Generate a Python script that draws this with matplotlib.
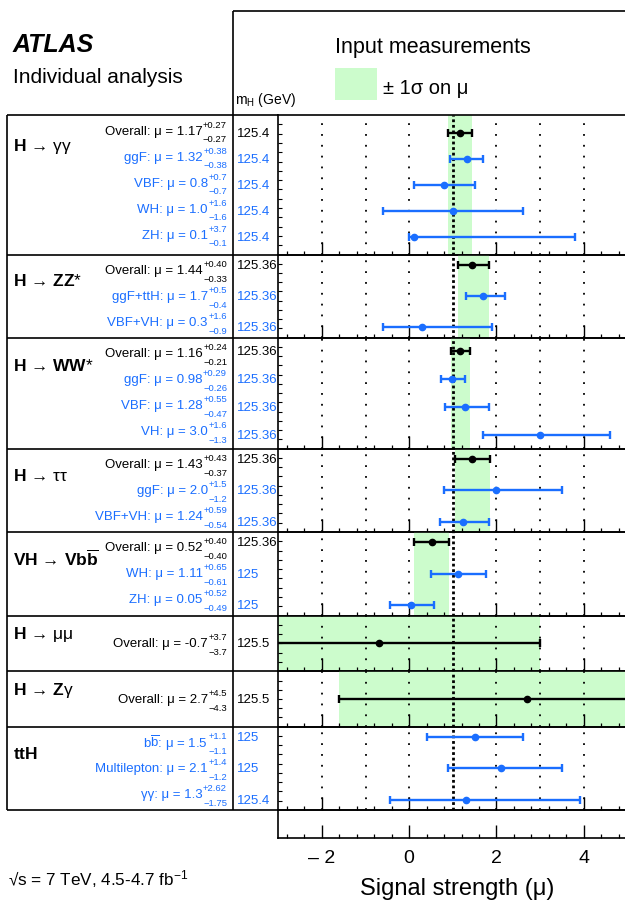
import numpy as np
import matplotlib
matplotlib.use("Agg")
import matplotlib.pyplot as plt
from matplotlib.patches import Rectangle
from matplotlib.ticker import MultipleLocator, FixedLocator
from matplotlib import transforms

plt.rcParams['font.family'] = ['Liberation Sans', 'DejaVu Sans']
plt.rcParams['mathtext.fontset'] = 'custom'
plt.rcParams['mathtext.rm'] = 'Liberation Sans'
plt.rcParams['mathtext.it'] = 'Liberation Sans:italic'
plt.rcParams['mathtext.bf'] = 'Liberation Sans:bold'

# --- данные (читаются с картинки) ---
categories = [r"$\mathbf{H}$ → γγ", r"$\mathbf{H}$ → $\mathbf{ZZ}$*",
              r"$\mathbf{H}$ → $\mathbf{WW}$*", r"$\mathbf{H}$ → ττ",
              r"$\mathbf{VH}$ → $\mathbf{Vb}\overline{\mathbf{b}}$",
              r"$\mathbf{H}$ → μμ", r"$\mathbf{H}$ → $\mathbf{Z}$γ",
              r"$\mathbf{ttH}$"]
row_labels = [
    ["Overall", "ggF", "VBF", "WH", "ZH"],
    ["Overall", "ggF+ttH", "VBF+VH"],
    ["Overall", "ggF", "VBF", "VH"],
    ["Overall", "ggF", "VBF+VH"],
    ["Overall", "WH", "ZH"],
    ["Overall"],
    ["Overall"],
    [r"b$\overline{\mathrm{b}}$", "Multilepton", "γγ"],
]
mu_vals = [
    ["1.17", "1.32", "0.8", "1.0", "0.1"],
    ["1.44", "1.7", "0.3"],
    ["1.16", "0.98", "1.28", "3.0"],
    ["1.43", "2.0", "1.24"],
    ["0.52", "1.11", "0.05"],
    ["-0.7"],
    ["2.7"],
    ["1.5", "2.1", "1.3"],
]
err_up = [
    ["0.27", "0.38", "0.7", "1.6", "3.7"],
    ["0.40", "0.5", "1.6"],
    ["0.24", "0.29", "0.55", "1.6"],
    ["0.43", "1.5", "0.59"],
    ["0.40", "0.65", "0.52"],
    ["3.7"],
    ["4.5"],
    ["1.1", "1.4", "2.62"],
]
err_dn = [
    ["0.27", "0.38", "0.7", "1.6", "0.1"],
    ["0.33", "0.4", "0.9"],
    ["0.21", "0.26", "0.47", "1.3"],
    ["0.37", "1.2", "0.54"],
    ["0.40", "0.61", "0.49"],
    ["3.7"],
    ["4.3"],
    ["1.1", "1.2", "1.75"],
]
mh_vals = [
    ["125.4"] * 5,
    ["125.36"] * 3,
    ["125.36"] * 4,
    ["125.36"] * 3,
    ["125.36", "125", "125"],
    ["125.5"],
    ["125.5"],
    ["125", "125", "125.4"],
]
xticks_major = [-2, 0, 2, 4]
xtick_labels = ["– 2", "0", "2", "4"]
grid_x = [-2, -1, 0, 2, 3, 4]
sm_mu = 1

# --- оформление ---
W, H = 625, 904
black = 'black'
blue = '#1a6eff'
green = '#ccfccc'
edges = [116, 255.5, 338.5, 449.5, 533, 616.5, 672.3, 727.5, 811, 839]
x0, x1 = 278.3, 627.3
margins = {5: 0.673, 4: 0.5, 3: 0.33, 1: 1.0}
row_step = 26       # шаг строк текста в таблице, px
row_first = 15.5    # отступ первой строки от верха панели, px

fig = plt.figure(figsize=(W / 100, H / 100), dpi=100)
renderer = fig.canvas.get_renderer()
bg = fig.add_axes([0, 0, 1, 1], zorder=0)
bg.set_xlim(0, W)
bg.set_ylim(H, 0)
bg.axis('off')


def box(top, bot):
    return [x0 / W, 1 - bot / H, (x1 - x0) / W, (bot - top) / H]


def style_x(ax):
    ax.set_xlim(-3, 5)
    ax.xaxis.set_major_locator(FixedLocator(xticks_major))
    ax.xaxis.set_minor_locator(MultipleLocator(0.4))
    ax.tick_params(axis='x', which='both', direction='in', top=False, bottom=True)
    ax.tick_params(axis='x', which='major', length=9.5, width=1.0)
    ax.tick_params(axis='x', which='minor', length=2.8, width=0.9)
    ax.spines['right'].set_visible(False)
    for s in ['left', 'bottom', 'top']:
        ax.spines[s].set_linewidth(1.2)
    ax.patch.set_alpha(0)


for i, cat in enumerate(categories):
    n = len(mu_vals[i])
    top, bot = edges[i], edges[i + 1]
    ax = fig.add_axes(box(top, bot), zorder=2)
    style_x(ax)
    ax.tick_params(axis='x', labelbottom=False)
    m = margins[n]
    ax.set_ylim(n - 1 + m, -m)
    k = int(round((bot - top) / 9.1))
    ax.set_yticks(np.linspace(-m, n - 1 + m, k + 1)[1:-1])
    ax.tick_params(axis='y', direction='in', length=2.8, width=0.8,
                   labelleft=False, right=False)

    # зелёная полоса ±1σ для общего результата
    if row_labels[i][0] == "Overall":
        mu0 = float(mu_vals[i][0])
        ax.axvspan(mu0 - float(err_dn[i][0]), mu0 + float(err_up[i][0]),
                   color=green, lw=0, zorder=0)

    for v in grid_x:
        ax.axvline(v, color='k', lw=1.3, ls=(0, (1, 5)), zorder=1)
    ax.axvline(sm_mu, color='k', lw=2.0, ls=(0, (1, 1)), zorder=1.5)

    blend = transforms.blended_transform_factory(bg.transData, ax.transData)
    for j in range(n):
        lab = row_labels[i][j]
        c = black if lab == "Overall" else blue
        mu = float(mu_vals[i][j])
        up = float(err_up[i][j])
        dn = float(err_dn[i][j])
        ax.errorbar(mu, j, xerr=[[dn], [up]], fmt='o', color=c, ms=4.5,
                    lw=1.7, capsize=2.6, capthick=1.7, zorder=3)

        # текст строки: у одиночных панелей по точке, иначе с шагом row_step
        if n > 1:
            ty = top + row_first + row_step * j
        else:
            ty = (top + bot) / 2
        t_up = bg.text(227, ty - 6.5, "+" + err_up[i][j], ha='right',
                       va='center', color=c, fontsize=6.8)
        t_dn = bg.text(227, ty + 8.5, "−" + err_dn[i][j], ha='right',
                       va='center', color=c, fontsize=6.8)
        wpx = max(t_up.get_window_extent(renderer).width,
                  t_dn.get_window_extent(renderer).width)
        bg.text(227 - wpx - 0.5, ty, f"{lab}: μ = {mu_vals[i][j]}",
                ha='right', va='center', color=c, fontsize=9.5)
        ax.text(237, j, mh_vals[i][j], transform=blend, ha='left', va='center',
                color=c, fontsize=9.5)

    ycat = 0.5 if n > 1 else -0.35
    ax.text(13, ycat, cat, transform=blend, ha='left', va='center',
            fontsize=12.5)

# нижняя пустая панель с подписями оси
axb = fig.add_axes(box(edges[-2], edges[-1]), zorder=2)
style_x(axb)
axb.set_ylim(0, 1)
axb.set_yticks([])
axb.set_xticklabels(xtick_labels, fontsize=14)
axb.tick_params(axis='x', which='major', pad=8)

# рамка таблицы
lk = dict(color='k', lw=1.2, solid_capstyle='butt')
for e in edges[:-1]:
    bg.plot([7, x0], [e, e], **lk)
bg.plot([7, 7], [edges[0], edges[-2]], **lk)
bg.plot([233, 233], [12, edges[-2]], **lk)
bg.plot([233, W], [12, 12], **lk)

# заголовки
bg.text(13, 52.5, "ATLAS", fontsize=18, fontweight='bold', style='italic',
        va='baseline')
bg.text(13, 83, "Individual analysis", fontsize=15, va='baseline')
bg.text(433, 52.5, "Input measurements", fontsize=15.5, ha='center', va='baseline')
bg.add_patch(Rectangle((335, 69), 42, 32, color=green, lw=0))
bg.text(383, 94, "± 1σ on μ", fontsize=14.5, va='baseline')
bg.text(235, 104, r"m$_{\mathrm{H}}$ (GeV)", fontsize=10, va='baseline')
bg.text(8, 885, r"√s = 7 TeV, 4.5-4.7 fb$^{-1}$", fontsize=12.3, va='baseline')
bg.text(457, 895, "Signal strength (μ)", fontsize=17, ha='center', va='baseline')

fig.savefig("out.png", dpi=100)
